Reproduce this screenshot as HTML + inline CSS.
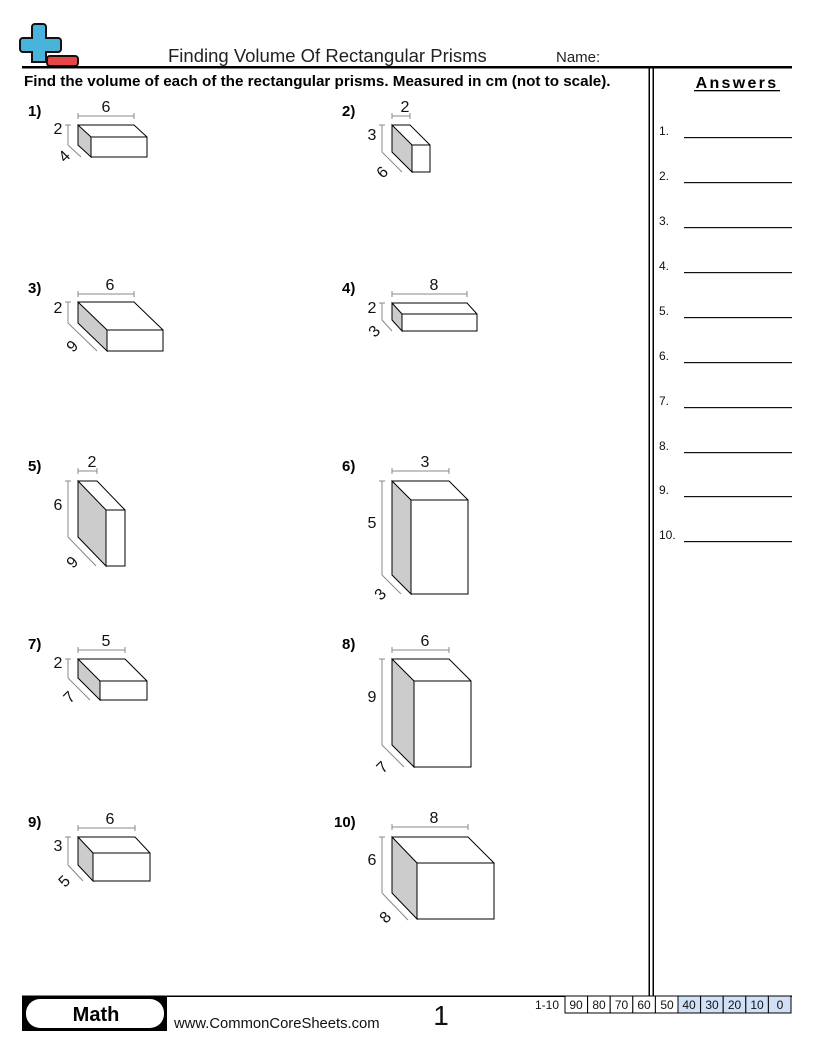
<!DOCTYPE html>
<html><head><meta charset="utf-8"><style>
html,body{margin:0;padding:0;background:#fff}
body{width:816px;height:1056px;overflow:hidden}
svg{display:block}
text{font-family:"Liberation Sans",sans-serif}
</style></head><body>
<svg width="816" height="1056" viewBox="0 0 816 1056" xmlns="http://www.w3.org/2000/svg">
<path d="M35,24 h8 a3,3 0 0 1 3,3 v11 h12 a3,3 0 0 1 3,3 v8 a3,3 0 0 1 -3,3 h-12 v10 h-14 v-10 h-9 a3,3 0 0 1 -3,-3 v-8 a3,3 0 0 1 3,-3 h9 v-11 a3,3 0 0 1 3,-3z" fill="#4ab3dc" stroke="#111" stroke-width="2"/>
<rect x="47" y="56" width="31" height="10" rx="3" fill="#e84545" stroke="#111" stroke-width="2"/>
<text x="168" y="62" font-size="18.5" fill="#222">Finding Volume Of Rectangular Prisms</text>
<text x="556" y="62" font-size="15" fill="#222">Name:</text>
<rect x="22" y="66" width="770" height="2.5" fill="#000"/>
<text x="24" y="86" font-size="15.2" font-weight="bold">Find the volume of each of the rectangular prisms. Measured in cm (not to scale).</text>
<rect x="648.5" y="67" width="1.5" height="930" fill="#000"/>
<rect x="652.5" y="67" width="1.5" height="930" fill="#000"/>
<text x="737" y="88" font-size="16" font-weight="bold" text-anchor="middle" letter-spacing="2.3">Answers</text>
<rect x="694" y="90" width="86" height="1.3" fill="#000"/>
<g font-size="12" fill="#111">
<text x="659" y="135">1.</text><rect x="684" y="137" width="108" height="1.2"/>
<text x="659" y="180">2.</text><rect x="684" y="182" width="108" height="1.2"/>
<text x="659" y="225">3.</text><rect x="684" y="227" width="108" height="1.2"/>
<text x="659" y="270">4.</text><rect x="684" y="272" width="108" height="1.2"/>
<text x="659" y="315">5.</text><rect x="684" y="317" width="108" height="1.2"/>
<text x="659" y="360">6.</text><rect x="684" y="362" width="108" height="1.2"/>
<text x="659" y="405">7.</text><rect x="684" y="407" width="108" height="1.2"/>
<text x="659" y="450">8.</text><rect x="684" y="452" width="108" height="1.2"/>
<text x="659" y="494">9.</text><rect x="684" y="496" width="108" height="1.2"/>
<text x="659" y="539">10.</text><rect x="684" y="541" width="108" height="1.2"/>
</g>
<g font-size="15" font-weight="bold">
<text x="28" y="116">1)</text><text x="342" y="116">2)</text>
<text x="28" y="293">3)</text><text x="342" y="293">4)</text>
<text x="28" y="471">5)</text><text x="342" y="471">6)</text>
<text x="28" y="649">7)</text><text x="342" y="649">8)</text>
<text x="28" y="827">9)</text><text x="334" y="827">10)</text>
</g>
<g stroke="#000" stroke-width="1" fill="none">
<g><polygon points="78,125 91,137 91,157 78,145" fill="#ccc"/><rect x="91" y="137" width="56" height="20" fill="#fff"/><polyline points="78,125 134,125 147,137"/></g>
<g><polygon points="392,125 412,145 412,172 392,152" fill="#ccc"/><rect x="412" y="145" width="18" height="27" fill="#fff"/><polyline points="392,125 410,125 430,145"/></g>
<g><polygon points="78,302 107,330 107,351 78,323" fill="#ccc"/><rect x="107" y="330" width="56" height="21" fill="#fff"/><polyline points="78,302 134,302 163,330"/></g>
<g><polygon points="392,303 402,314 402,331 392,320" fill="#ccc"/><rect x="402" y="314" width="75" height="17" fill="#fff"/><polyline points="392,303 467,303 477,314"/></g>
<g><polygon points="78,481 106,510 106,566 78,537" fill="#ccc"/><rect x="106" y="510" width="19" height="56" fill="#fff"/><polyline points="78,481 97,481 125,510"/></g>
<g><polygon points="392,481 411,500 411,594 392,575" fill="#ccc"/><rect x="411" y="500" width="57" height="94" fill="#fff"/><polyline points="392,481 449,481 468,500"/></g>
<g><polygon points="78,659 100,681 100,700 78,678" fill="#ccc"/><rect x="100" y="681" width="47" height="19" fill="#fff"/><polyline points="78,659 125,659 147,681"/></g>
<g><polygon points="392,659 414,681 414,767 392,745" fill="#ccc"/><rect x="414" y="681" width="57" height="86" fill="#fff"/><polyline points="392,659 449,659 471,681"/></g>
<g><polygon points="78,837 93,853 93,881 78,865" fill="#ccc"/><rect x="93" y="853" width="57" height="28" fill="#fff"/><polyline points="78,837 135,837 150,853"/></g>
<g><polygon points="392,837 417,863 417,919 392,893" fill="#ccc"/><rect x="417" y="863" width="77" height="56" fill="#fff"/><polyline points="392,837 468,837 494,863"/></g>
</g>
<g stroke="#888" stroke-width="1" fill="none">
<path d="M78,116H134M78,113v6M134,113v6"/>
<path d="M392,116H410M392,113v6M410,113v6"/>
<path d="M78,294H134M78,291v6M134,291v6"/>
<path d="M392,294H467M392,291v6M467,291v6"/>
<path d="M78,471H97M78,468v6M97,468v6"/>
<path d="M392,471H449M392,468v6M449,468v6"/>
<path d="M78,650H125M78,647v6M125,647v6"/>
<path d="M392,650H449M392,647v6M449,647v6"/>
<path d="M78,828H135M78,825v6M135,825v6"/>
<path d="M392,827H468M392,824v6M468,824v6"/>
<path d="M68,125V145M65,125h6"/>
<path d="M382,125V152M379,125h6"/>
<path d="M68,302V323M65,302h6"/>
<path d="M382,303V320M379,303h6"/>
<path d="M68,481V537M65,481h6"/>
<path d="M382,481V575M379,481h6"/>
<path d="M68,659V678M65,659h6"/>
<path d="M382,659V745M379,659h6"/>
<path d="M68,837V865M65,837h6"/>
<path d="M382,837V893M379,837h6"/>
<path d="M68,145L81,157"/>
<path d="M382,152L402,172"/>
<path d="M68,323L97,351"/>
<path d="M382,320L392,331"/>
<path d="M68,537L96,566"/>
<path d="M382,575L401,594"/>
<path d="M68,678L90,700"/>
<path d="M382,745L404,767"/>
<path d="M68,865L83,881"/>
<path d="M382,893L408,920"/>
</g>
<g font-size="16" fill="#111" text-anchor="middle">
<text x="106" y="112">6</text><text x="58" y="134">2</text><text transform="translate(68,160) rotate(-45)">4</text>
<text x="405" y="112">2</text><text x="372" y="140">3</text><text transform="translate(386,176) rotate(-45)">6</text>
<text x="110" y="290">6</text><text x="58" y="313">2</text><text transform="translate(76,350) rotate(-45)">9</text>
<text x="434" y="290">8</text><text x="372" y="313">2</text><text transform="translate(378,335) rotate(-45)">3</text>
<text x="92" y="467">2</text><text x="58" y="510">6</text><text transform="translate(76,566) rotate(-45)">9</text>
<text x="425" y="467">3</text><text x="372" y="528">5</text><text transform="translate(384,598) rotate(-45)">3</text>
<text x="106" y="646">5</text><text x="58" y="668">2</text><text transform="translate(73,701) rotate(-45)">7</text>
<text x="425" y="646">6</text><text x="372" y="702">9</text><text transform="translate(386,771) rotate(-45)">7</text>
<text x="110" y="824">6</text><text x="58" y="851">3</text><text transform="translate(68,885) rotate(-45)">5</text>
<text x="434" y="823">8</text><text x="372" y="865">6</text><text transform="translate(389,921) rotate(-45)">8</text>
</g>
<rect x="22" y="995.5" width="770" height="1.5" fill="#000"/>
<rect x="22" y="996" width="145" height="35" fill="#000"/>
<rect x="26" y="999" width="138" height="29" rx="14" fill="#fff"/>
<text x="96" y="1021" font-size="20" font-weight="bold" text-anchor="middle">Math</text>
<text x="174" y="1028" font-size="14.8" fill="#111">www.CommonCoreSheets.com</text>
<text x="441" y="1025" font-size="28" text-anchor="middle" fill="#111">1</text>
<text x="559" y="1009" font-size="12" text-anchor="end" fill="#111">1-10</text>
<g stroke="#000" stroke-width="1">
<rect x="565" y="996" width="22.6" height="17" fill="#fff"/>
<rect x="587.6" y="996" width="22.6" height="17" fill="#fff"/>
<rect x="610.2" y="996" width="22.6" height="17" fill="#fff"/>
<rect x="632.8" y="996" width="22.6" height="17" fill="#fff"/>
<rect x="655.4" y="996" width="22.6" height="17" fill="#fff"/>
<rect x="678" y="996" width="22.6" height="17" fill="#cfe0f7"/>
<rect x="700.6" y="996" width="22.6" height="17" fill="#cfe0f7"/>
<rect x="723.2" y="996" width="22.6" height="17" fill="#cfe0f7"/>
<rect x="745.8" y="996" width="22.6" height="17" fill="#cfe0f7"/>
<rect x="768.4" y="996" width="22.6" height="17" fill="#cfe0f7"/>
</g>
<g font-size="12" text-anchor="middle" fill="#111">
<text x="576" y="1009">90</text><text x="599" y="1009">80</text><text x="621.5" y="1009">70</text><text x="644" y="1009">60</text><text x="667" y="1009">50</text><text x="689" y="1009">40</text><text x="712" y="1009">30</text><text x="734.5" y="1009">20</text><text x="757" y="1009">10</text><text x="780" y="1009">0</text>
</g>
</svg>
</body></html>
